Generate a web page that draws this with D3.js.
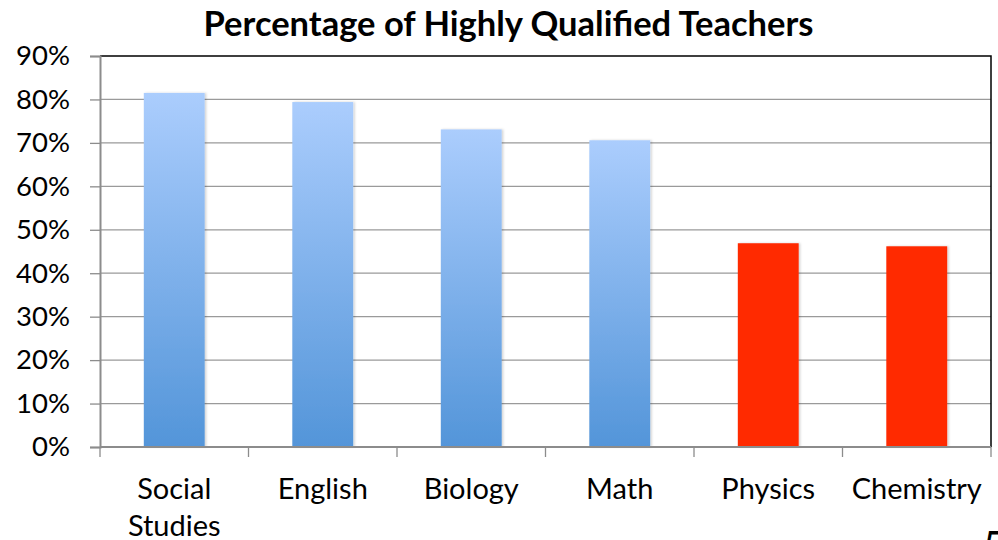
<!DOCTYPE html>
<html><head><meta charset="utf-8">
<script src="https://cdn.jsdelivr.net/npm/d3@7"></script>
<style>body{margin:0;background:#fff;} svg{display:block;}</style>
</head><body>
<script>
const categories = ["Social Studies", "English", "Biology", "Math", "Physics", "Chemistry"];
const values = [0.815, 0.794, 0.731, 0.706, 0.469, 0.462];
const highlight = [false, false, false, false, true, true];
const yTicks = [0, 0.1, 0.2, 0.3, 0.4, 0.5, 0.6, 0.7, 0.8, 0.9];
const title = "Percentage of Highly Qualified Teachers";

const W = 998, H = 540;
const m = {left: 100, right: 7, top: 56, bottom: 93};
const svg = d3.select("body").append("svg").attr("width", W).attr("height", H);
const font = "Lato, 'Open Sans', sans-serif";

const defs = svg.append("defs");
const grad = defs.append("linearGradient").attr("id", "blueGrad").attr("x1", 0).attr("y1", 0).attr("x2", 0).attr("y2", 1);
grad.append("stop").attr("offset", "0%").attr("stop-color", "#abcdfd");
grad.append("stop").attr("offset", "100%").attr("stop-color", "#5395d9");
const sh = defs.append("filter").attr("id", "sh").attr("x", "-10%").attr("y", "-10%").attr("width", "130%").attr("height", "120%");
sh.append("feDropShadow").attr("dx", 1.5).attr("dy", 0).attr("stdDeviation", 1.2).attr("flood-color", "#000").attr("flood-opacity", 0.18);

const x = d3.scaleBand().domain(categories).range([m.left, W - m.right]).paddingInner(0.59).paddingOuter(0.295);
const xb = d3.scaleBand().domain(categories).range([m.left, W - m.right]);
const y = d3.scaleLinear().domain([0, 0.9]).range([H - m.bottom, m.top]);

// gridlines
svg.append("g").selectAll("line").data(yTicks.filter(t => t > 0 && t < 0.9)).join("line")
  .attr("x1", m.left).attr("x2", W - m.right)
  .attr("y1", d => y(d)).attr("y2", d => y(d))
  .attr("stroke", "#9a9a9a").attr("stroke-width", 1.3);

// bars
svg.append("g").selectAll("rect").data(categories).join("rect")
  .attr("x", d => x(d)).attr("width", x.bandwidth())
  .attr("y", (d, i) => y(values[i])).attr("height", (d, i) => y(0) - y(values[i]))
  .attr("fill", (d, i) => highlight[i] ? "#ff2a00" : "url(#blueGrad)")
  .attr("filter", "url(#sh)");

// border top/right
svg.append("path")
  .attr("d", `M${m.left},${y(0.9)}H${W - m.right}V${y(0)}`)
  .attr("fill", "none").attr("stroke", "#000").attr("stroke-width", 1.5);

// y axis
const yAxis = d3.axisLeft(y).tickValues(yTicks).tickFormat(d3.format(".0%")).tickSize(10).tickPadding(20);
const ya = svg.append("g").attr("transform", `translate(${m.left},0)`).call(yAxis);
ya.select(".domain").attr("stroke", "#8c8c8c").attr("stroke-width", 2);
ya.selectAll(".tick line").attr("stroke", "#8c8c8c").attr("stroke-width", 1.3);
ya.selectAll(".tick text").attr("font-family", font).attr("font-size", 27.5).attr("fill", "#000");

// x axis baseline and ticks
const boundaries = categories.map(c => xb(c)).concat([W - m.right]);
svg.append("line").attr("x1", m.left).attr("x2", W - m.right).attr("y1", y(0)).attr("y2", y(0))
  .attr("stroke", "#8c8c8c").attr("stroke-width", 2);
svg.append("g").selectAll("line").data(boundaries).join("line")
  .attr("x1", d => d).attr("x2", d => d).attr("y1", y(0)).attr("y2", y(0) + 10)
  .attr("stroke", "#8c8c8c").attr("stroke-width", 1.3);

// x labels
const xl = svg.append("g").selectAll("text").data(categories).join("text")
  .attr("x", d => xb(d) + xb.bandwidth() / 2).attr("y", 499)
  .attr("text-anchor", "middle").attr("font-family", font).attr("font-size", 29).attr("fill", "#000");
xl.each(function(d) {
  const words = d.split(" ");
  const t = d3.select(this);
  words.forEach((w, i) => {
    t.append("tspan").attr("x", xb(d) + xb.bandwidth() / 2).attr("dy", i === 0 ? 0 : 37).text(w);
  });
});

// title
svg.append("text").attr("x", 508.5).attr("y", 36).attr("text-anchor", "middle")
  .attr("font-family", font).attr("font-weight", "bold").attr("font-size", 34.5).attr("fill", "#000").text(title);

// partial slide number
svg.append("text").attr("x", 983).attr("y", 560).attr("font-family", font).attr("font-size", 40).attr("fill", "#000").text("5");
</script>
</body></html>
